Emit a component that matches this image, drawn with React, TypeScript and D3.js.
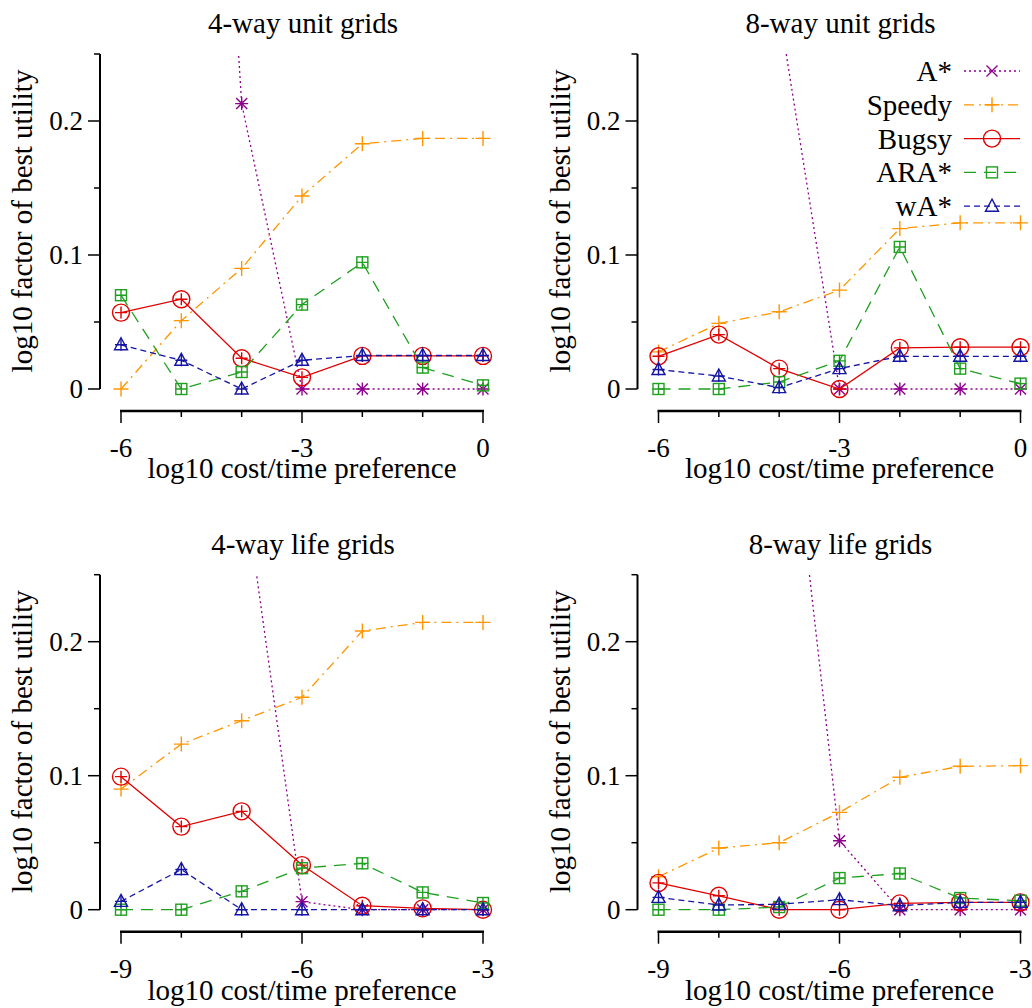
import React from "react";
import * as d3 from "d3";

const xUnit = [-6, -5, -4, -3, -2, -1, 0];
const xLife = [-9, -8, -7, -6, -5, -4, -3];

const seriesNames = ["A*", "Speedy", "Bugsy", "ARA*", "wA*"];
const panelTitles = ["4-way unit grids", "8-way unit grids", "4-way life grids", "8-way life grids"];

// 4-way unit grids
const u4AStar = [null, 0.93, 0.213, 0, 0, 0, 0];
const u4Speedy = [0, 0.051, 0.09, 0.144, 0.183, 0.187, 0.187];
const u4Bugsy = [0.057, 0.067, 0.023, 0.0087, 0.0247, 0.0247, 0.0247];
const u4ARA = [0.07, 0, 0.0127, 0.063, 0.0945, 0.016, 0.0027];
const u4WA = [0.033, 0.0214, 0, 0.0214, 0.025, 0.025, 0.025];

// 8-way unit grids
const u8AStar = [null, null, 0.283, 0, 0, 0, 0];
const u8Speedy = [0.0277, 0.049, 0.0576, 0.0738, 0.1197, 0.124, 0.124];
const u8Bugsy = [0.0244, 0.0406, 0.0152, 0, 0.0307, 0.0312, 0.0312];
const u8ARA = [0, 0, 0.0052, 0.021, 0.106, 0.0152, 0.004];
const u8WA = [0.0145, 0.0097, 0.001, 0.0152, 0.0244, 0.0244, 0.0244];

// 4-way life grids
const l4AStar = [null, null, 0.33, 0.006, 0, 0, 0];
const l4Speedy = [0.09, 0.1236, 0.141, 0.1585, 0.208, 0.2144, 0.2144];
const l4Bugsy = [0.0993, 0.062, 0.0734, 0.0333, 0.003, 0.001, 0];
const l4ARA = [0, 0, 0.0137, 0.031, 0.0346, 0.0129, 0.005];
const l4WA = [0.0062, 0.03, 0, 0, 0, 0, 0];

// 8-way life grids
const l8AStar = [null, null, 0.45, 0.0515, 0, 0, 0];
const l8Speedy = [0.0246, 0.046, 0.05, 0.0726, 0.0988, 0.107, 0.1075];
const l8Bugsy = [0.02, 0.0104, 0, 0, 0.0047, 0.0055, 0.0055];
const l8ARA = [0, 0, 0.002, 0.0236, 0.027, 0.0087, 0.0067];
const l8WA = [0.0092, 0.0035, 0.004, 0.0075, 0.003, 0.0055, 0.0055];

const yMajor = [0, 0.1, 0.2];
const yMinor = [0.05, 0.15, 0.25];

const panels = [
  { title: panelTitles[0], xs: xUnit, series: [u4AStar, u4Speedy, u4Bugsy, u4ARA, u4WA], col: 0, row: 0 },
  { title: panelTitles[1], xs: xUnit, series: [u8AStar, u8Speedy, u8Bugsy, u8ARA, u8WA], col: 1, row: 0, legend: true },
  { title: panelTitles[2], xs: xLife, series: [l4AStar, l4Speedy, l4Bugsy, l4ARA, l4WA], col: 0, row: 1 },
  { title: panelTitles[3], xs: xLife, series: [l8AStar, l8Speedy, l8Bugsy, l8ARA, l8WA], col: 1, row: 1 },
];

const styles = [
  { color: "#8f008f", dash: "2,3", marker: "star", legendMarker: "x" },
  { color: "#ff9600", dash: "10,5,2,5", marker: "plus", legendMarker: "plus" },
  { color: "#e00000", dash: "", marker: "circle", legendMarker: "circle" },
  { color: "#20a020", dash: "12,8", marker: "square", legendMarker: "square" },
  { color: "#1515a5", dash: "6,4", marker: "triangle", legendMarker: "triangle" },
];

const FONT = "Liberation Serif, Times New Roman, serif";
const txt = { fontFamily: FONT } as any;

function Marker({ type, x, y, color, plus }: any) {
  const p = 6;
  const plusEl = plus ? (
    <path d={`M${x - p},${y}H${x + p}M${x},${y - p}V${y + p}`} stroke={color} strokeWidth={1.4} fill="none" />
  ) : null;
  if (type === "plus") {
    const s = 7.5;
    return <path d={`M${x - s},${y}H${x + s}M${x},${y - s}V${y + s}`} stroke={color} strokeWidth={1.4} fill="none" />;
  }
  if (type === "x") {
    const s = 5.5;
    return <path d={`M${x - s},${y - s}L${x + s},${y + s}M${x - s},${y + s}L${x + s},${y - s}`} stroke={color} strokeWidth={1.4} fill="none" />;
  }
  if (type === "star") {
    const s = 5.5;
    return (
      <path
        d={`M${x - s},${y - s}L${x + s},${y + s}M${x - s},${y + s}L${x + s},${y - s}M${x - 6.5},${y}H${x + 6.5}M${x},${y - 6.5}V${y + 6.5}`}
        stroke={color}
        strokeWidth={1.4}
        fill="none"
      />
    );
  }
  if (type === "circle") {
    return (
      <g>
        <circle cx={x} cy={y} r={8.5} stroke={color} strokeWidth={1.4} fill="none" />
        {plusEl}
      </g>
    );
  }
  if (type === "square") {
    const s = 5.5;
    return (
      <g>
        <rect x={x - s} y={y - s} width={2 * s} height={2 * s} stroke={color} strokeWidth={1.4} fill="none" />
        {plusEl}
      </g>
    );
  }
  if (type === "triangle") {
    return (
      <g>
        <path d={`M${x},${y - 7}L${x + 6.5},${y + 5}L${x - 6.5},${y + 5}Z`} stroke={color} strokeWidth={1.4} fill="none" />
        {plusEl}
      </g>
    );
  }
  return null;
}

function Panel({ panel, idx }: any) {
  const dx = panel.col * 537.5;
  const dy = panel.row * 520.7;
  const xMin = panel.xs[0];
  const xMax = panel.xs[panel.xs.length - 1];
  const x = d3.scaleLinear().domain([xMin, xMax]).range([121 + dx, 483 + dx]);
  const y = d3.scaleLinear().domain([0, 0.25]).range([389 + dy, 54 + dy]);
  const axisX = 100 + dx;
  const axisY = y(0) + 22;
  const clipId = `clip${idx}`;
  const xTicks = d3.range(xMin, xMax + 1, 1);
  const tickLabelBase = panel.row === 0 ? 457 : 457 + 521;
  const xLabelBase = panel.row === 0 ? 478 : 478 + 522;
  const cx = (121 + 483) / 2 + dx;

  return (
    <g>
      <defs>
        <clipPath id={clipId}>
          <rect x={x(xMin) - 30} y={y(0.25)} width={x(xMax) - x(xMin) + 60} height={y(0) - y(0.25) + 30} />
        </clipPath>
      </defs>
      <text x={cx + 1} y={33 + dy} textAnchor="middle" style={txt} fontSize={29} fill="#000">
        {panel.title}
      </text>
      {/* y axis */}
      <line x1={axisX} x2={axisX} y1={y(0.25)} y2={y(0)} stroke="#000" strokeWidth={2} />
      {yMajor.map((t) => (
        <g key={"ym" + t}>
          <line x1={axisX - 12} x2={axisX} y1={y(t)} y2={y(t)} stroke="#000" strokeWidth={1.5} />
          <text x={axisX - 17} y={y(t) + 9} textAnchor="end" style={txt} fontSize={27} fill="#000">
            {t === 0 ? "0" : d3.format(".1f")(t)}
          </text>
        </g>
      ))}
      {yMinor.map((t) => (
        <line key={"yn" + t} x1={axisX - 6} x2={axisX} y1={y(t)} y2={y(t)} stroke="#000" strokeWidth={1.5} />
      ))}
      <text
        transform={`translate(${32 + dx},${221 + dy}) rotate(-90)`}
        textAnchor="middle"
        style={txt}
        fontSize={29}
        fill="#000"
      >
        log10 factor of best utility
      </text>
      {/* x axis */}
      <line x1={x(xMin) - 1} x2={x(xMax) + 1} y1={axisY} y2={axisY} stroke="#000" strokeWidth={2.6} />
      {xTicks.map((t: number) => {
        const major = t % 3 === 0;
        return (
          <g key={"xt" + t}>
            <line x1={x(t)} x2={x(t)} y1={axisY} y2={axisY + (major ? 12 : 6)} stroke="#000" strokeWidth={1.5} />
            {major ? (
              <text x={x(t)} y={tickLabelBase} textAnchor="middle" style={txt} fontSize={27} fill="#000">
                {String(t)}
              </text>
            ) : null}
          </g>
        );
      })}
      <text x={cx} y={xLabelBase} textAnchor="middle" style={txt} fontSize={29} fill="#000">
        log10 cost/time preference
      </text>
      {/* series */}
      {panel.series.map((vals: any[], si: number) => {
        const st = styles[si];
        const pts = panel.xs.map((xv: number, i: number) => [xv, vals[i]]);
        const line = d3
          .line<any>()
          .defined((d) => d[1] !== null && d[1] !== undefined)
          .x((d) => x(d[0]))
          .y((d) => y(d[1]));
        return (
          <g key={"s" + si}>
            <path
              d={line(pts) || ""}
              clipPath={`url(#${clipId})`}
              stroke={st.color}
              strokeWidth={1.3}
              strokeDasharray={st.dash}
              fill="none"
            />
            {pts
              .filter((d: any) => d[1] !== null && d[1] <= 0.25)
              .map((d: any, i: number) => (
                <Marker key={i} type={st.marker} x={x(d[0])} y={y(d[1])} color={st.color} plus={si >= 2} />
              ))}
          </g>
        );
      })}
      {panel.legend
        ? seriesNames.map((name, si) => {
            const st = styles[si];
            const ly = 71 + si * 33.8;
            return (
              <g key={"lg" + si}>
                <text x={952} y={ly + 10} textAnchor="end" style={txt} fontSize={29} fill="#000">
                  {name}
                </text>
                <line x1={964} x2={1020} y1={ly} y2={ly} stroke={st.color} strokeWidth={1.3} strokeDasharray={st.dash} />
                <Marker type={st.legendMarker} x={992} y={ly} color={st.color} plus={false} />
              </g>
            );
          })
        : null}
    </g>
  );
}

export default function App() {
  return (
    <svg
      width={1032}
      height={1008}
      style={{ position: "absolute", left: 0, top: 0, background: "#fff" }}
    >
      <rect x={0} y={0} width={1032} height={1008} fill="#fff" />
      {panels.map((p, i) => (
        <Panel key={i} panel={p} idx={i} />
      ))}
    </svg>
  );
}
